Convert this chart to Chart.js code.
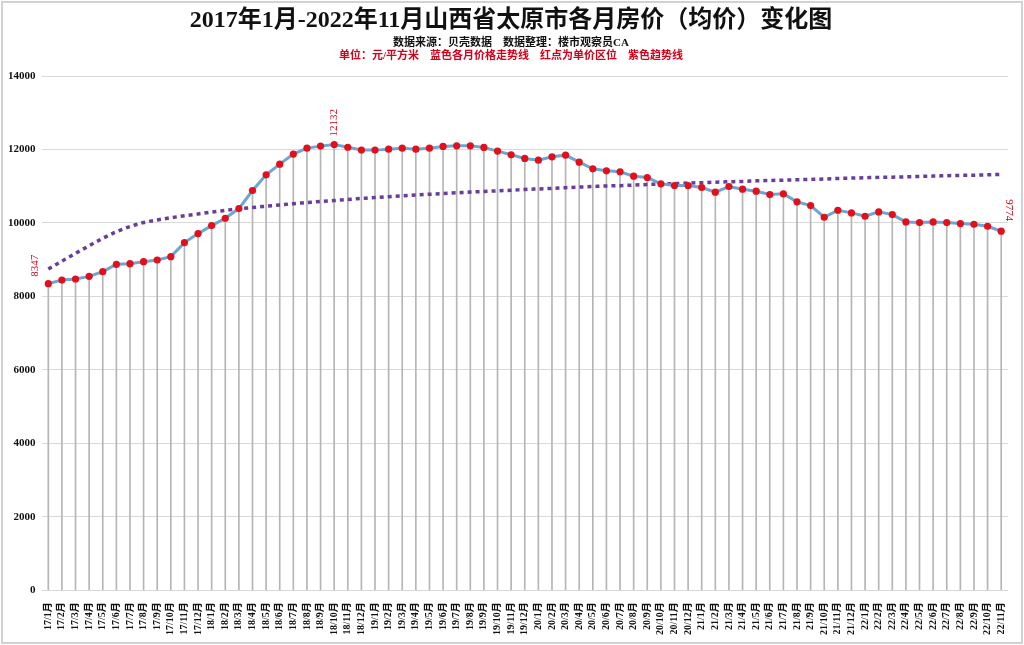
<!DOCTYPE html>
<html lang="zh-CN">
<head>
<meta charset="UTF-8" />
<title>太原市各月房价变化图</title>
<style>
  html, body { margin: 0; padding: 0; background: #fff; }
  #wrap { width: 1024px; height: 645px; }
</style>
</head>
<body>
<div id="wrap"><canvas id="chart"></canvas></div>
<script src="https://cdn.jsdelivr.net/npm/chart.js"></script>
<script>
const months = [
  "17/1月", "17/2月", "17/3月", "17/4月", "17/5月", "17/6月", "17/7月", "17/8月", "17/9月", "17/10月", "17/11月", "17/12月",
  "18/1月", "18/2月", "18/3月", "18/4月", "18/5月", "18/6月", "18/7月", "18/8月", "18/9月", "18/10月", "18/11月", "18/12月",
  "19/1月", "19/2月", "19/3月", "19/4月", "19/5月", "19/6月", "19/7月", "19/8月", "19/9月", "19/10月", "19/11月", "19/12月",
  "20/1月", "20/2月", "20/3月", "20/4月", "20/5月", "20/6月", "20/7月", "20/8月", "20/9月", "20/10月", "20/11月", "20/12月",
  "21/1月", "21/2月", "21/3月", "21/4月", "21/5月", "21/6月", "21/7月", "21/8月", "21/9月", "21/10月", "21/11月", "21/12月",
  "22/1月", "22/2月", "22/3月", "22/4月", "22/5月", "22/6月", "22/7月", "22/8月", "22/9月", "22/10月", "22/11月"
];

// 各月均价（元/平方米）
const prices = [
  8347, 8445, 8473, 8545, 8673, 8873, 8891, 8945, 8991, 9082, 9464, 9709,
  9927, 10127, 10391, 10882, 11309, 11600, 11873, 12036, 12091, 12132, 12060, 11985,
  11982, 12009, 12036, 12009, 12036, 12082, 12100, 12100, 12055, 11955, 11855, 11755,
  11709, 11800, 11845, 11655, 11473, 11418, 11391, 11273, 11236, 11064, 11018, 11018,
  10964, 10836, 10991, 10918, 10864, 10773, 10791, 10573, 10473, 10155, 10345, 10273,
  10182, 10300, 10227, 10027, 10009, 10027, 10009, 9982, 9964, 9909, 9774
];

// 紫色趋势线（读图估值）
const trend = [
  8745, 8960, 9170, 9380, 9580, 9760, 9900, 10010, 10080, 10140, 10195, 10245,
  10295, 10340, 10385, 10420, 10455, 10490, 10525, 10555, 10585, 10610, 10640, 10665,
  10690, 10715, 10735, 10760, 10780, 10800, 10820, 10840, 10855, 10875, 10890, 10910,
  10925, 10940, 10960, 10975, 10990, 11005, 11015, 11030, 11045, 11060, 11070, 11085,
  11095, 11110, 11120, 11130, 11145, 11155, 11165, 11175, 11185, 11195, 11210, 11220,
  11230, 11240, 11245, 11255, 11265, 11275, 11285, 11295, 11300, 11310, 11320
];

const yTicks = [0, 2000, 4000, 6000, 8000, 10000, 12000, 14000];

const SERIF = '"Liberation Serif", "Noto Sans CJK SC", serif';

// 标题与说明文字、数值标注、外框
const decor = {
  id: "decor",
  afterDraw(chart) {
    const ctx = chart.ctx;
    ctx.save();
    ctx.strokeStyle = "#d2d2d2";
    ctx.lineWidth = 2;
    ctx.strokeRect(2, 2, chart.width - 4, chart.height - 4);

    ctx.textAlign = "center";
    ctx.textBaseline = "middle";
    ctx.fillStyle = "#111";
    ctx.font = "bold 24px " + SERIF;
    ctx.fillText("2017年1月-2022年11月山西省太原市各月房价（均价）变化图", 511, 21);
    ctx.font = "bold 11px " + SERIF;
    ctx.fillText("数据来源：贝壳数据    数据整理：楼市观察员CA", 511, 43);
    ctx.fillStyle = "#d0021b";
    ctx.fillText("单位：元/平方米    蓝色各月价格走势线    红点为单价区位    紫色趋势线", 511, 56);

    // 数值标注
    const meta = chart.getDatasetMeta(0);
    const marks = [
      { i: 0, dx: -13, dy: -7, rot: -Math.PI / 2 },
      { i: 21, dx: 0, dy: -8, rot: -Math.PI / 2 },
      { i: prices.length - 1, dx: 8, dy: -32, rot: Math.PI / 2 }
    ];
    ctx.font = "11px " + SERIF;
    ctx.textAlign = "left";
    ctx.fillStyle = "#d0021b";
    marks.forEach((m) => {
      const pt = meta.data[m.i];
      ctx.save();
      ctx.translate(pt.x + m.dx, pt.y + m.dy);
      ctx.rotate(m.rot);
      ctx.fillText(String(prices[m.i]), 0, 0);
      ctx.restore();
    });
    ctx.restore();
  }
};

new Chart(document.getElementById("chart"), {
  data: {
    labels: months,
    datasets: [
      {
        type: "line",
        label: "各月均价",
        data: prices,
        borderColor: "#6aa6d6",
        borderWidth: 3,
        pointBackgroundColor: "#e3101b",
        pointBorderWidth: 0,
        pointRadius: 3.6,
        tension: 0,
        order: 1
      },
      {
        type: "line",
        label: "趋势线",
        data: trend,
        borderColor: "#6a3d9a",
        borderWidth: 3.5,
        borderDash: [4, 4],
        pointRadius: 0,
        cubicInterpolationMode: "monotone",
        order: 2
      },
      {
        type: "bar",
        label: "垂线",
        data: prices,
        backgroundColor: "#b5b5b5",
        barThickness: 1,
        order: 3
      }
    ]
  },
  options: {
    responsive: true,
    maintainAspectRatio: false,
    animation: false,
    layout: { padding: { top: 76, left: 2, right: 16, bottom: 6 } },
    plugins: {
      legend: { display: false },
      tooltip: { enabled: false },
      title: { display: false }
    },
    scales: {
      x: {
        offset: true,
        grid: { display: false },
        border: { display: false },
        ticks: {
          color: "#111",
          font: { family: SERIF, size: 10, weight: "bold" },
          minRotation: 90,
          maxRotation: 90,
          autoSkip: false,
          padding: 4
        }
      },
      y: {
        min: 0,
        max: 14000,
        afterBuildTicks: (scale) => {
          scale.ticks = yTicks.map((v) => ({ value: v }));
        },
        grid: { color: "#d9d9d9", drawTicks: false },
        border: { display: false },
        ticks: {
          color: "#111",
          font: { family: SERIF, size: 11, weight: "bold" },
          padding: 6,
          callback: (v) => String(v)
        }
      }
    }
  },
  plugins: [decor]
});
</script>
</body>
</html>
